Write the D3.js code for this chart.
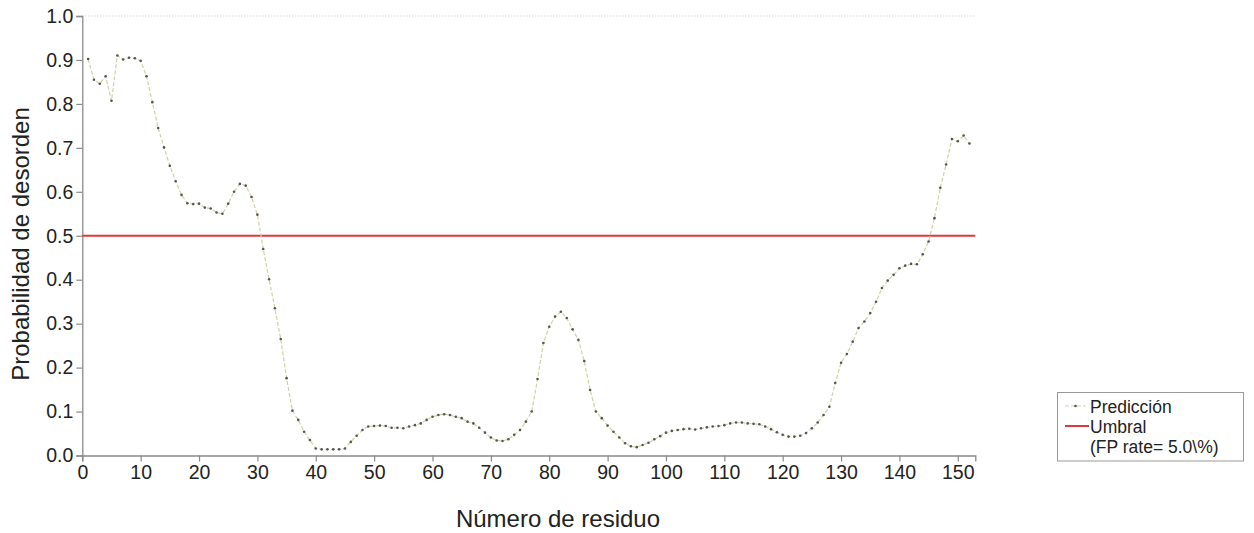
<!DOCTYPE html>
<html>
<head>
<meta charset="utf-8">
<script src="https://cdn.jsdelivr.net/npm/d3@7"></script>
<style>
  html, body { margin: 0; padding: 0; background: #fff; }
  svg { display: block; }
  text { font-family: "Liberation Sans", Arial, sans-serif; }
</style>
</head>
<body>
<svg id="chart" width="1254" height="533"></svg>
<script>
// ---- data ----
const residues = d3.range(1, 153); // 1..152
const probabilities = [
  0.902, 0.855, 0.846, 0.863, 0.807, 0.910, 0.901, 0.905, 0.904, 0.898,
  0.863, 0.804, 0.745, 0.701, 0.659, 0.624, 0.593, 0.574, 0.572, 0.573,
  0.564, 0.562, 0.553, 0.550, 0.573, 0.600, 0.618, 0.614, 0.588, 0.548,
  0.470, 0.401, 0.335, 0.265, 0.176, 0.102, 0.081, 0.054, 0.035, 0.016,
  0.014, 0.014, 0.014, 0.014, 0.016, 0.031, 0.045, 0.058, 0.066, 0.067,
  0.068, 0.067, 0.063, 0.063, 0.062, 0.066, 0.069, 0.073, 0.081, 0.088,
  0.092, 0.094, 0.092, 0.088, 0.085, 0.077, 0.073, 0.063, 0.052, 0.041,
  0.034, 0.033, 0.037, 0.047, 0.058, 0.077, 0.100, 0.174, 0.256, 0.293,
  0.316, 0.327, 0.313, 0.287, 0.263, 0.215, 0.149, 0.100, 0.085, 0.068,
  0.054, 0.041, 0.028, 0.021, 0.019, 0.024, 0.029, 0.037, 0.044, 0.052,
  0.056, 0.058, 0.060, 0.061, 0.059, 0.062, 0.064, 0.066, 0.067, 0.069,
  0.073, 0.075, 0.075, 0.073, 0.072, 0.071, 0.066, 0.060, 0.053, 0.047,
  0.043, 0.043, 0.045, 0.051, 0.062, 0.075, 0.092, 0.111, 0.165, 0.211,
  0.231, 0.259, 0.290, 0.305, 0.324, 0.350, 0.381, 0.398, 0.411, 0.426,
  0.432, 0.436, 0.435, 0.458, 0.487, 0.540, 0.609, 0.662, 0.720, 0.715,
  0.728, 0.710
];
const threshold = 0.5;
const xTicks = [0, 10, 20, 30, 40, 50, 60, 70, 80, 90, 100, 110, 120, 130, 140, 150];
const yTicks = [0.0, 0.1, 0.2, 0.3, 0.4, 0.5, 0.6, 0.7, 0.8, 0.9, 1.0];
const legendLabels = ["Predicción", "Umbral", "(FP rate= 5.0\\%)"];
const xTitle = "Número de residuo";
const yTitle = "Probabilidad de desorden";

// ---- layout ----
const svg = d3.select("#chart");
const x = d3.scaleLinear().domain([0, 153]).range([82.3, 975.3]);
const y = d3.scaleLinear().domain([0, 1]).range([455.5, 16]);
const axisColor = "#8a8a8a";
const textColor = "#222";

// top dotted gridline at 1.0
svg.append("line")
  .attr("x1", x(0)).attr("x2", x(153))
  .attr("y1", y(1)).attr("y2", y(1))
  .attr("stroke", "#c8c8c8").attr("stroke-width", 1)
  .attr("stroke-dasharray", "1,2");

// axes
const xAxis = svg.append("g")
  .attr("transform", `translate(0,${y(0)})`)
  .call(d3.axisBottom(x).tickValues(xTicks).tickFormat(d3.format("d")).tickSizeOuter(0).tickSize(6).tickPadding(4));
const yAxis = svg.append("g")
  .attr("transform", `translate(${x(0)},0)`)
  .call(d3.axisLeft(y).tickValues(yTicks).tickFormat(d3.format(".1f")).tickSizeOuter(0).tickSize(6).tickPadding(3));

[xAxis, yAxis].forEach(g => {
  g.select(".domain").attr("stroke", axisColor).attr("stroke-width", 1.3);
  g.selectAll(".tick line").attr("stroke", axisColor).attr("stroke-width", 1.2);
  g.selectAll(".tick text")
    .attr("fill", textColor)
    .style("font-size", "19.5px")
    .style("font-family", "'Liberation Sans', Arial, sans-serif");
});

// threshold line
svg.append("line")
  .attr("x1", x(0)).attr("x2", x(153))
  .attr("y1", y(threshold)).attr("y2", y(threshold))
  .attr("stroke", "#e0363c").attr("stroke-width", 2);

// prediction line
const data = residues.map((r, i) => ({ r, p: probabilities[i] }));
svg.append("path")
  .datum(data)
  .attr("fill", "none")
  .attr("stroke", "#d4d0a4")
  .attr("stroke-width", 1.2)
  .attr("stroke-dasharray", "4,2")
  .attr("d", d3.line().x(d => x(d.r)).y(d => y(d.p)));

svg.append("g").selectAll("circle")
  .data(data)
  .join("circle")
  .attr("cx", d => x(d.r))
  .attr("cy", d => y(d.p))
  .attr("r", 1.3)
  .attr("fill", "#555");

// axis titles
svg.append("text")
  .attr("x", 558).attr("y", 527)
  .attr("text-anchor", "middle")
  .attr("fill", textColor)
  .style("font-size", "24px")
  .text(xTitle);

svg.append("text")
  .attr("transform", "translate(29,244) rotate(-90)")
  .attr("text-anchor", "middle")
  .attr("fill", textColor)
  .style("font-size", "24px")
  .text(yTitle);

// legend
const lg = svg.append("g");
lg.append("rect")
  .attr("x", 1057.5).attr("y", 392.5)
  .attr("width", 186).attr("height", 68.5)
  .attr("fill", "#fff").attr("stroke", "#999").attr("stroke-width", 1);
lg.append("line")
  .attr("x1", 1065).attr("x2", 1086).attr("y1", 406).attr("y2", 406)
  .attr("stroke", "#d4d0a4").attr("stroke-width", 1.2).attr("stroke-dasharray", "4,2");
lg.append("circle").attr("cx", 1075.5).attr("cy", 406).attr("r", 1.3).attr("fill", "#555");
lg.append("line")
  .attr("x1", 1065).attr("x2", 1089).attr("y1", 426).attr("y2", 426)
  .attr("stroke", "#e0363c").attr("stroke-width", 2);
legendLabels.forEach((t, i) => {
  lg.append("text")
    .attr("x", 1090)
    .attr("y", 407 + i * 20)
    .attr("dy", "0.35em")
    .attr("fill", textColor)
    .style("font-size", "17.5px")
    .text(t);
});
</script>
</body>
</html>
